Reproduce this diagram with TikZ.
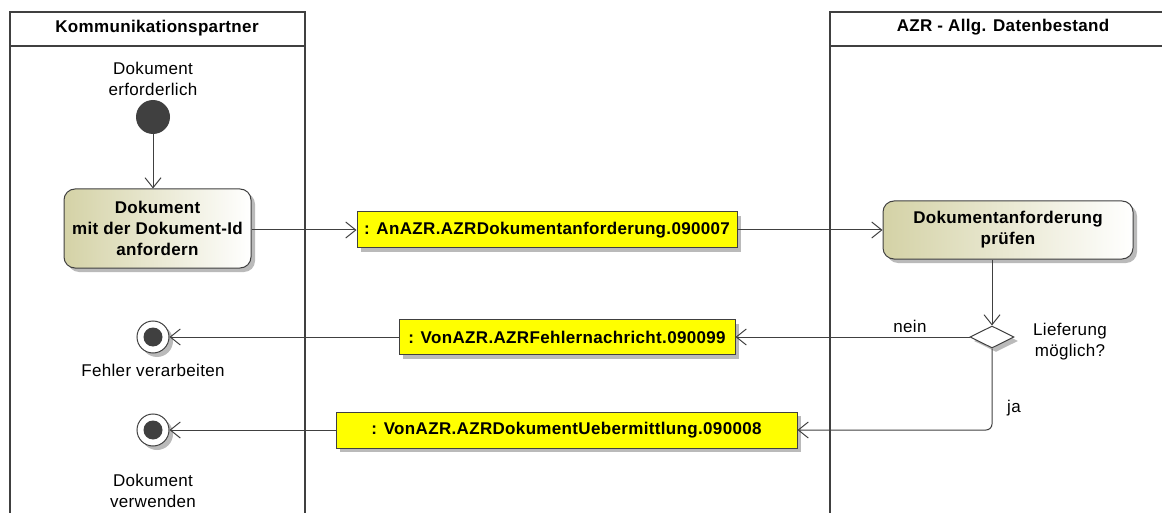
\documentclass[tikz,border=0pt]{standalone}
\usepackage{fontspec}
\setmainfont{Liberation Sans}[LetterSpace=2]
\usetikzlibrary{arrows.meta,shapes.geometric,shadows}
\definecolor{linegray}{HTML}{404040}
\definecolor{actfill}{HTML}{D4D2A6}
\definecolor{objfill}{HTML}{FFFF00}
\begin{document}
\begin{tikzpicture}[x=1pt,y=-1pt,
    font=\fontsize{17}{21}\selectfont,
    lane/.style={draw=linegray,line width=1.8pt},
    lanehead/.style={font=\fontsize{17}{21}\selectfont\bfseries},
    shade/.style={drop shadow={shadow xshift=4pt,shadow yshift=-4pt,fill=black!45,opacity=0.6}},
    action/.style={draw=linegray,line width=1pt,rounded corners=11pt,left color=actfill,right color=white,
        align=center,inner sep=0pt,font=\fontsize{17}{21}\selectfont\bfseries,shade},
    object/.style={draw=linegray,line width=1pt,fill=objfill,inner sep=0pt,minimum height=36pt,
        font=\fontsize{17}{21}\selectfont\bfseries,shade},
    initial/.style={circle,fill=linegray,minimum size=34pt,inner sep=0pt},
    final/.style={circle,draw=linegray,line width=1pt,fill=white,minimum size=32pt,inner sep=0pt,shade,
        path picture={\fill[linegray] (path picture bounding box.center) circle (9.5pt);}},
    decision/.style={diamond,draw=linegray,line width=1pt,fill=white,aspect=2,minimum width=44pt,
        minimum height=22pt,inner sep=0pt,shade},
    note/.style={align=center,inner sep=0pt},
    flow/.style={draw=linegray,line width=1pt,-{Straight Barb[length=10pt,width=16pt,line width=1pt]}}
]
\useasboundingbox (0,0) rectangle (1162,513);

% swimlanes
\draw[lane] (10,513) -- (10,12) -- (305,12) -- (305,513);
\draw[lane] (10,46) -- (305,46);
\draw[lane] (830,513) -- (830,12) -- (1176,12) -- (1176,513);
\draw[lane] (830,46) -- (1176,46);
\node[lanehead] (partnerhead) at (157,28) {Kommunikationspartner};
\node[lanehead] (azrhead)     at (1003,27) {AZR - Allg. Datenbestand};

% nodes
\node[initial] (start) at (153,117) {};
\node[note] (startnote) at (153,79) {Dokument\\erforderlich};
\node[action,minimum width=187pt,minimum height=79pt] (request) at (157.5,228.5)
    {Dokument\\mit der Dokument-Id\\anfordern};
\node[object,minimum width=380pt] (reqmsg) at (547,230) {: AnAZR.AZRDokumentanforderung.090007};
\node[action,minimum width=250pt,minimum height=58pt] (check) at (1008,230)
    {Dokumentanforderung\\prüfen};
\node[decision] (choice) at (992,337) {};
\node[note] (choicenote) at (1070,342) {Lieferung\\möglich?};
\node[object,minimum width=336pt,minimum height=35pt] (errmsg) at (567,337) {: VonAZR.AZRFehlernachricht.090099};
\node[final] (errend) at (153,337) {};
\node[note] (errnote) at (153,370) {Fehler verarbeiten};
\node[object,minimum width=461pt] (docmsg) at (566.5,430) {: VonAZR.AZRDokumentUebermittlung.090008};
\node[final] (docend) at (153,430) {};
\node[note] (docnote) at (153,491) {Dokument\\verwenden};
\node[note] (nein) at (910,326) {nein};
\node[note] (ja) at (1014,408) {ja};

% flows
\draw[flow] (start) -- (start |- request.north);
\draw[flow] (request.east |- reqmsg) -- (reqmsg.west);
\draw[flow] (reqmsg.east) -- (check.west |- reqmsg);
\draw[flow] (check.south -| choice) -- (choice.north);
\draw[flow] (choice.west) -- (errmsg.east);
\draw[flow] (errmsg.west) -- (errend.east);
\draw[flow,rounded corners=6pt] (choice.south) |- (docmsg.east);
\draw[flow] (docmsg.west) -- (docend.east);
\end{tikzpicture}
\end{document}
